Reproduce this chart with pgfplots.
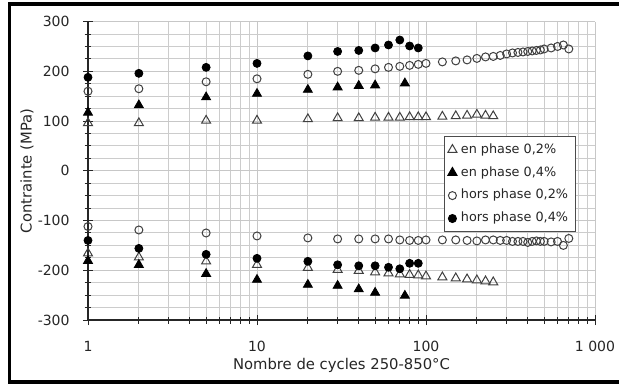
\documentclass[border=0pt]{standalone}
\usepackage{fontspec}
\setmainfont{DejaVu Sans}
\usepackage{pgfplots}
\pgfplotsset{compat=1.18}
\begin{document}
\begin{tikzpicture}
\useasboundingbox (0,0) rectangle (309.5pt,192.5pt);
\fill[white] (0,0) rectangle (309.5pt,192.5pt);
\begin{axis}[
  at={(44pt,32.5pt)}, anchor=south west,
  scale only axis, width=253.5pt, height=149.2pt,
  xmode=log, xmin=1, xmax=1000, ymin=-300, ymax=300,
  xtick={1,10,100,1000}, xticklabels={1,10,100,1\ 000},
  minor xtick={2,3,4,5,6,7,8,9,20,30,40,50,60,70,80,90,200,300,400,500,600,700,800,900},
  ytick={-300,-200,-100,0,100,200,300},
  yticklabels={-300,-200,-100,0,100,200,300},
  minor y tick num=3,
  grid=both,
  major grid style={black!22, line width=0.5pt},
  minor grid style={black!20, line width=0.5pt},
  axis x line*=bottom, axis y line*=left,
  axis line style={-, black!85, line width=0.6pt},
  tick align=center,
  major tick length=5pt, minor tick length=3.5pt,
  tick style={black!85, line width=0.5pt},
  ticklabel style={font=\fontsize{7}{8}\selectfont, text=black!85},
  xticklabel style={anchor=center, yshift=-10.8pt},
  yticklabel style={xshift=-3.2pt},
  xlabel={Nombre de cycles 250-850°C},
  ylabel={Contrainte (MPa)},
  every axis x label/.style={at={(axis description cs:0.5,-0.151)}, anchor=center, font=\fontsize{7.4}{9}\selectfont, text=black!85},
  every axis y label/.style={at={(axis description cs:-0.1203,0.5)}, anchor=center, rotate=90, font=\fontsize{7.4}{9}\selectfont, text=black!85},
  legend style={at={(0.703,0.617)}, anchor=north west, draw=black!70, line width=0.5pt,
    font=\fontsize{6.4}{7.6}\selectfont, inner sep=1.5pt, row sep=1.1pt, text=black!85},
  legend cell align=left,
  legend image code/.code={\draw[mark repeat=2,mark phase=2,#1] plot coordinates {(0pt,0pt)(2.5pt,0pt)(5pt,0pt)};},
]
\addplot[only marks, mark=triangle, mark size=2.6pt, draw=black!75, line width=0.5pt] coordinates {
(1,96)(2,96)(5,101)(10,101)(20,104)(30,106)(40,106)(50,107)(60,107)(70,107)(80,108)(90,108)(100,108)(125,109)(150,110)(175,111)(200,113)(225,111)(250,110)
(1,-166)(2,-174)(5,-182)(10,-189)(20,-195)(30,-199)(40,-201)(50,-204)(60,-206)(70,-208)(80,-209)(90,-210)(100,-212)(125,-214)(150,-216)(175,-218)(200,-220)(225,-222)(250,-224)
};
\addlegendentry{en phase 0,2\%}
\addplot[only marks, mark=triangle*, mark size=2.6pt, draw=black, fill=black] coordinates {
(1,117)(2,132)(5,148)(10,155)(20,163)(30,168)(40,171)(50,172)(75,176)
(1,-181)(2,-189)(5,-207)(10,-219)(20,-229)(30,-231)(40,-238)(50,-245)(75,-251)
};
\addlegendentry{en phase 0,4\%}
\addplot[only marks, mark=o, mark size=2pt, draw=black!75, line width=0.5pt] coordinates {
(1,160)(2,165)(5,179)(10,185)(20,194)(30,200)(40,202)(50,205)(60,208)(70,210)(80,212)(90,214)(100,216)(125,219)(150,221)(175,223)(200,226)(225,229)(250,230)(275,232)(300,235)(325,237)(350,238)(375,239)(400,240)(425,241)(450,242)(475,243)(500,245)(550,247)(600,250)(650,253)(700,245)
(1,-112)(2,-119)(5,-125)(10,-131)(20,-135)(30,-137)(40,-137)(50,-137)(60,-137)(70,-139)(80,-140)(90,-140)(100,-139)(125,-139)(150,-139)(175,-140)(200,-141)(225,-139)(250,-139)(275,-140)(300,-140)(325,-142)(350,-142)(375,-142)(400,-144)(425,-142)(450,-141)(475,-142)(500,-142)(550,-143)(600,-142)(650,-150)(700,-136)
};
\addlegendentry{hors phase 0,2\%}
\addplot[only marks, mark=*, mark size=2pt, draw=black, fill=black] coordinates {
(1,188)(2,196)(5,208)(10,216)(20,231)(30,240)(40,242)(50,247)(60,253)(70,263)(80,251)(90,247)
(1,-140)(2,-156)(5,-168)(10,-176)(20,-182)(30,-189)(40,-191)(50,-191)(60,-194)(70,-197)(80,-186)(90,-186)
};
\addlegendentry{hors phase 0,4\%}
\end{axis}
\draw[line width=1.6pt, black] (315pt,190.5pt) -- (4.75pt,190.5pt) -- (4.75pt,1.5pt) -- (315pt,1.5pt);
\end{tikzpicture}
\end{document}
